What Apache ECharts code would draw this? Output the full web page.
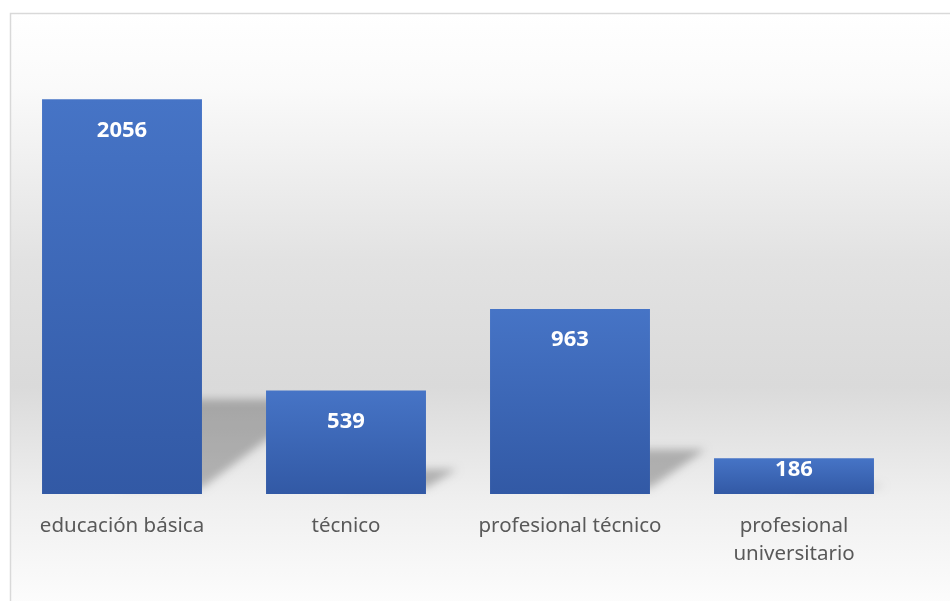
<!DOCTYPE html>
<html>
<head>
<meta charset="utf-8">
<script src="https://cdn.jsdelivr.net/npm/echarts@6/dist/echarts.min.js"></script>
<style>
  html, body { margin: 0; padding: 0; background: #ffffff; }
  #chart { width: 950px; height: 601px; }
</style>
</head>
<body>
<div id="chart"></div>
<script>
// Enrolment by education level
const categories = ['educación básica', 'técnico', 'profesional técnico', 'profesional\nuniversitario'];
const values = [2056, 539, 963, 186];

const chart = echarts.init(document.getElementById('chart'), null, { renderer: 'canvas' });

const barGradient = new echarts.graphic.LinearGradient(0, 0, 0, 1, [
  { offset: 0, color: '#4674C6' },
  { offset: 1, color: '#3259A5' }
]);

// Short bars keep their label close to the top edge
const barData = values.map(v => ({
  value: v,
  label: { distance: v < 300 ? 0 : 20 }
}));

// Soft floor shadow cast behind each bar, towards the upper right.
// The shape itself sits off to the left; only its blurred shadow is shifted back into place.
const SHIFT = 3000;
function renderShadow(params, api) {
  const idx = api.value(0);
  const v = api.value(1);
  const base = api.coord([idx, 0]);
  const top = api.coord([idx, v]);
  const size = api.size([1, 0]);
  const barW = size[0] * 0.714;
  const xL = base[0] - SHIFT;
  const xR = base[0] + barW / 2 - SHIFT;
  const h = base[1] - top[1];
  const yBot = base[1] - 6;
  const yTop = base[1] - h * 0.24;
  const apexX = xR + h * 0.3;
  return {
    type: 'polygon',
    shape: { points: [[xL, yBot], [xL, yTop], [apexX, yTop], [xR, yBot]] },
    style: {
      fill: '#000',
      shadowBlur: 9,
      shadowOffsetX: SHIFT,
      shadowColor: 'rgba(0,0,0,0.25)'
    },
    silent: true
  };
}

chart.setOption({
  animation: false,
  backgroundColor: '#ffffff',
  graphic: [
    {
      type: 'rect',
      z: -10,
      shape: { x: 10.5, y: 13.5, width: 960, height: 620 },
      style: {
        fill: new echarts.graphic.LinearGradient(0, 0, 0, 1, [
          { offset: 0, color: '#ffffff' },
          { offset: 0.12, color: '#fafafa' },
          { offset: 0.4, color: '#e2e2e2' },
          { offset: 0.6, color: '#dadada' },
          { offset: 0.78, color: '#efefef' },
          { offset: 0.95, color: '#fcfcfc' },
          { offset: 1, color: '#ffffff' }
        ]),
        stroke: '#d9d9d9',
        lineWidth: 1.5
      }
    }
  ],
  grid: { left: 10, right: 44, top: 14, bottom: 107, containLabel: false },
  xAxis: {
    type: 'category',
    data: categories,
    axisLine: { show: false },
    axisTick: { show: false },
    axisLabel: {
      color: '#595959',
      fontFamily: 'Noto Sans',
      fontSize: 20.5,
      lineHeight: 28,
      margin: 18,
      interval: 0
    }
  },
  yAxis: {
    type: 'value',
    min: 0,
    max: 2500,
    show: false,
    splitLine: { show: false }
  },
  series: [
    {
      type: 'custom',
      renderItem: renderShadow,
      data: values.map((v, i) => [i, v]),
      encode: { x: 0, y: 1 },
      clip: false,
      z: 1,
      silent: true
    },
    {
      type: 'bar',
      data: barData,
      barCategoryGap: '28.6%',
      z: 3,
      itemStyle: { color: barGradient },
      label: {
        show: true,
        position: 'insideTop',
        color: '#ffffff',
        fontFamily: 'Noto Sans',
        fontWeight: 'bold',
        fontSize: 22
      }
    }
  ]
});
</script>
</body>
</html>
